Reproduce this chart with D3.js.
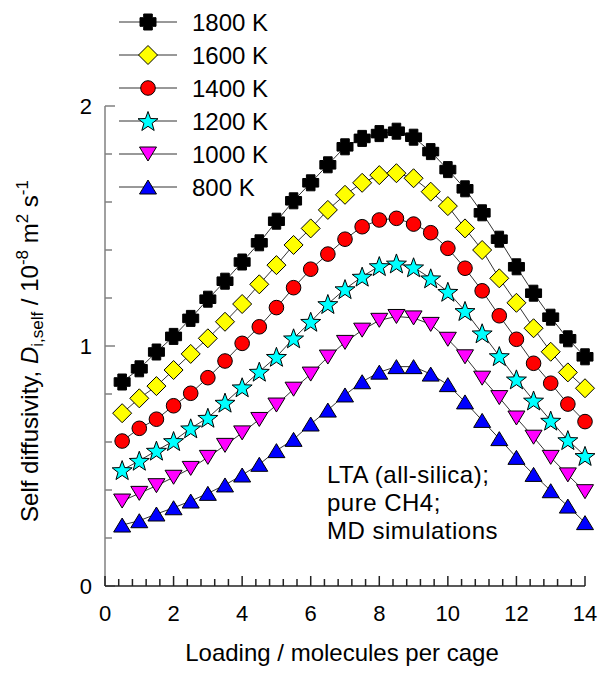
<!DOCTYPE html>
<html>
<head>
<meta charset="utf-8">
<script src="https://cdn.jsdelivr.net/npm/d3@7"></script>
<style>
  body { margin: 0; background: #fff; }
  svg { font-family: "Liberation Sans", Arial, sans-serif; }
</style>
</head>
<body>
<svg width="604" height="680"></svg>
<script>
// data
const loading = [0.5, 1, 1.5, 2, 2.5, 3, 3.5, 4, 4.5, 5, 5.5, 6, 6.5, 7, 7.5, 8, 8.5, 9, 9.5, 10, 10.5, 11, 11.5, 12, 12.5, 13, 13.5, 14];
const d1800 = [0.85, 0.905, 0.975, 1.04, 1.115, 1.195, 1.27, 1.35, 1.43, 1.52, 1.605, 1.68, 1.755, 1.83, 1.865, 1.885, 1.895, 1.87, 1.81, 1.735, 1.655, 1.555, 1.445, 1.33, 1.22, 1.12, 1.03, 0.955];
const d1600 = [0.72, 0.782, 0.833, 0.90, 0.967, 1.032, 1.101, 1.175, 1.257, 1.337, 1.421, 1.49, 1.567, 1.63, 1.68, 1.712, 1.72, 1.699, 1.643, 1.583, 1.49, 1.40, 1.282, 1.18, 1.074, 0.976, 0.89, 0.824];
const d1400 = [0.604, 0.657, 0.695, 0.751, 0.803, 0.868, 0.9375, 1.011, 1.08, 1.16, 1.243, 1.32, 1.383, 1.445, 1.497, 1.525, 1.532, 1.508, 1.472, 1.407, 1.324, 1.23, 1.126, 1.028, 0.928, 0.845, 0.758, 0.685];
const d1200 = [0.483, 0.522, 0.564, 0.604, 0.657, 0.701, 0.764, 0.828, 0.893, 0.955, 1.032, 1.101, 1.175, 1.237, 1.289, 1.333, 1.344, 1.328, 1.282, 1.226, 1.146, 1.053, 0.958, 0.861, 0.773, 0.689, 0.608, 0.542];
const d1000 = [0.354, 0.386, 0.418, 0.453, 0.49, 0.536, 0.586, 0.638, 0.694, 0.754, 0.82, 0.883, 0.954, 1.015, 1.066, 1.107, 1.123, 1.117, 1.09, 1.028, 0.955, 0.866, 0.785, 0.70, 0.62, 0.536, 0.463, 0.393];
const d800 = [0.254, 0.272, 0.30, 0.326, 0.354, 0.386, 0.421, 0.4625, 0.507, 0.564, 0.611, 0.675, 0.733, 0.796, 0.851, 0.891, 0.914, 0.914, 0.883, 0.839, 0.767, 0.69, 0.614, 0.536, 0.465, 0.397, 0.333, 0.264];

const seriesNames = ["1800 K", "1600 K", "1400 K", "1200 K", "1000 K", "800 K"];
const seriesValues = [d1800, d1600, d1400, d1200, d1000, d800];
const xTicks = [0, 2, 4, 6, 8, 10, 12, 14];
const yTicks = [0, 1, 2];

const svg = d3.select("svg");

const x = d3.scaleLinear().domain([0, 14]).range([105, 585]);
const y = d3.scaleLinear().domain([0, 2]).range([586, 106]);

// marker shapes, one per series
const shapes = [
  // thick cross
  (() => { const h = 8, a = 4.3; return `M${-a},${-h}H${a}V${-a}H${h}V${a}H${a}V${h}H${-a}V${a}H${-h}V${-a}H${-a}Z`; })(),
  "M0,-9.5L9.5,0L0,9.5L-9.5,0Z",
  d3.symbol(d3.symbolCircle, Math.PI * 7.3 * 7.3)(),
  (() => {
    let p = [];
    for (let i = 0; i < 10; i++) {
      const r = i % 2 === 0 ? 10.5 : 4.3;
      const t = -Math.PI / 2 + i * Math.PI / 5;
      p.push([r * Math.cos(t), r * Math.sin(t) + 1]);
    }
    return "M" + p.join("L") + "Z";
  })(),
  "M-8.5,-7L8.5,-7L0,7Z",
  "M0,-7L8.5,7L-8.5,7Z"
];
const fills = ["#000000", "#ffff00", "#ff0000", "#00ffff", "#ff00ff", "#0000ff"];

// axes
const yAxis = svg.append("g").attr("stroke", "#808080").attr("stroke-width", 1.5);
yAxis.append("line").attr("x1", x(0)).attr("x2", x(0)).attr("y1", y(2)).attr("y2", y(0));
yAxis.selectAll("line.tick")
  .data(d3.range(0, 2.01, 0.2))
  .enter().append("line")
  .attr("class", "tick")
  .attr("x1", x(0))
  .attr("x2", (d, i) => x(0) + (i % 5 === 0 ? 10 : 7))
  .attr("y1", d => y(d)).attr("y2", d => y(d));

const xAxis = svg.append("g").attr("stroke", "#222").attr("stroke-width", 1.5);
xAxis.append("line").attr("x1", x(0)).attr("x2", x(14)).attr("y1", y(0)).attr("y2", y(0));
xAxis.selectAll("line.tick")
  .data(d3.range(0, 36))
  .enter().append("line")
  .attr("class", "tick")
  .attr("x1", d => x(d * 0.4)).attr("x2", d => x(d * 0.4))
  .attr("y1", y(0))
  .attr("y2", d => y(0) - (d % 5 === 0 ? 10 : 7));

svg.selectAll("text.xtick")
  .data(xTicks)
  .enter().append("text")
  .attr("class", "xtick")
  .attr("x", d => x(d)).attr("y", 621)
  .attr("text-anchor", "middle")
  .style("font-size", "22px")
  .text(d => d);

svg.selectAll("text.ytick")
  .data(yTicks)
  .enter().append("text")
  .attr("class", "ytick")
  .attr("x", 92).attr("y", d => y(d) + 8)
  .attr("text-anchor", "end")
  .style("font-size", "22px")
  .text(d => d);

// axis titles
svg.append("text")
  .attr("x", 342).attr("y", 661)
  .attr("text-anchor", "middle")
  .style("font-size", "24px")
  .text("Loading / molecules per cage");

const yt = svg.append("text")
  .attr("transform", "translate(38,351) rotate(-90)")
  .attr("text-anchor", "middle")
  .style("font-size", "24px");
yt.append("tspan").text("Self diffusivity, ");
yt.append("tspan").style("font-style", "italic").text("D");
yt.append("tspan").attr("dy", 5).style("font-size", "17px").text("i,self");
yt.append("tspan").attr("dy", -5).text(" / 10");
yt.append("tspan").attr("dy", -10).style("font-size", "17px").text("-8");
yt.append("tspan").attr("dy", 10).text(" m");
yt.append("tspan").attr("dy", -10).style("font-size", "17px").text("2");
yt.append("tspan").attr("dy", 10).text(" s");
yt.append("tspan").attr("dy", -10).style("font-size", "17px").text("-1");

// series: line then symbols
const line = d3.line().x((d, i) => x(loading[i])).y(d => y(d));
seriesValues.forEach(function(vals, s) {
  svg.append("path")
    .attr("d", line(vals))
    .attr("fill", "none")
    .attr("stroke", "#333")
    .attr("stroke-width", 1);
  svg.append("g")
    .selectAll("path")
    .data(vals)
    .enter().append("path")
    .attr("d", shapes[s])
    .attr("transform", (d, i) => `translate(${x(loading[i])},${y(d)})`)
    .attr("fill", fills[s])
    .attr("stroke", "#000")
    .attr("stroke-width", 1);
});

// legend
const legend = svg.append("g");
seriesNames.forEach(function(name, i) {
  const ly = 22 + i * 33;
  legend.append("line")
    .attr("x1", 119).attr("x2", 177).attr("y1", ly).attr("y2", ly)
    .attr("stroke", "#333").attr("stroke-width", 1);
  legend.append("path")
    .attr("d", shapes[i])
    .attr("transform", `translate(148,${ly})`)
    .attr("fill", fills[i]).attr("stroke", "#000");
  legend.append("text")
    .attr("x", 192).attr("y", ly + 8.5)
    .style("font-size", "24px")
    .text(name);
});

// annotation
const notes = ["LTA (all-silica);", "pure CH4;", "MD simulations"];
svg.selectAll("text.note")
  .data(notes)
  .enter().append("text")
  .attr("class", "note")
  .attr("x", 327).attr("y", (d, i) => 483 + i * 28)
  .style("font-size", "24px")
  .style("letter-spacing", "0.5px")
  .text(d => d);
</script>
</body>
</html>
